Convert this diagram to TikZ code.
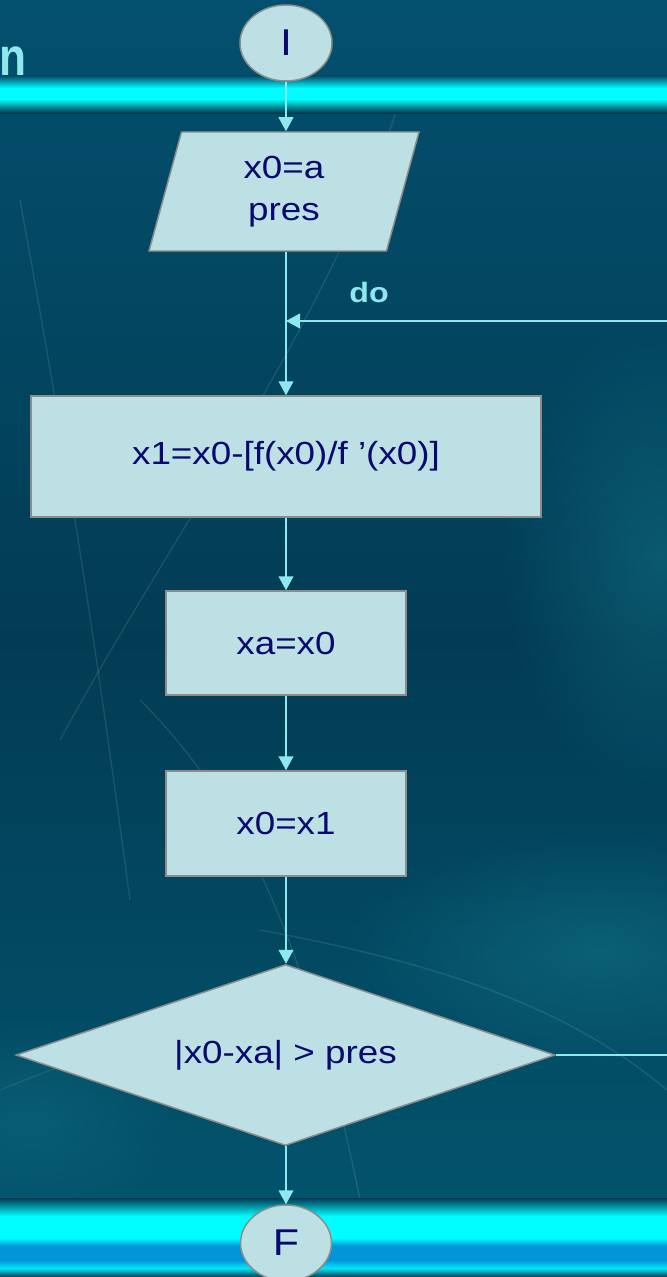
\documentclass[tikz,border=0pt]{standalone}
\usepackage{fontspec}
\setmainfont{Liberation Sans}[FakeStretch=1.15]
\usetikzlibrary{shapes.geometric,arrows.meta,fadings}
\definecolor{bgA}{HTML}{03506E}
\definecolor{bgB}{HTML}{023C54}
\definecolor{bgC}{HTML}{035670}
\definecolor{glow}{HTML}{00FCFF}
\definecolor{barblue}{HTML}{0096D8}
\definecolor{boxfill}{HTML}{BCE0E3}
\definecolor{boxline}{HTML}{8C8C8C}
\definecolor{txt}{HTML}{0A0A6E}
\definecolor{conn}{HTML}{8FE8EE}
\definecolor{haze}{HTML}{1A8A9A}
\tikzfading[name=softblob,inner color=transparent!40,outer color=transparent!100]
\begin{document}
\begin{tikzpicture}[x=0.75pt,y=-0.75pt,
  shapebox/.style={fill=boxfill,draw=boxline,line width=1.1pt,text=txt,
    font=\fontsize{24}{27}\selectfont,align=center,inner sep=0pt},
  termbox/.style={shapebox,ellipse,font=\fontsize{28}{30}\selectfont},
  procbox/.style={shapebox,rectangle},
  flow/.style={draw=conn,line width=1.5pt,-{Triangle[width=11pt,length=10.5pt]}},
  lbl/.style={text=conn,font=\bfseries\fontsize{21}{24}\selectfont,inner sep=0pt}]
\useasboundingbox (0,0) rectangle (667,1277);
\begin{scope}
\clip (0,0) rectangle (667,1277);
% background
\shade[top color=bgA,bottom color=bgB] (0,0) rectangle (667,640);
\shade[top color=bgB,bottom color=bgC] (0,640) rectangle (667,1277);
\fill[haze,opacity=0.6,path fading=softblob] (660,560) ellipse (160 and 240);
\fill[haze,opacity=0.6,path fading=softblob] (600,950) ellipse (260 and 120);
\fill[haze,opacity=0.4,path fading=softblob] (30,1120) ellipse (150 and 100);
\draw[white,opacity=0.10,line width=1pt] (400,100) .. controls (330,320) and (180,520) .. (60,740);
\draw[white,opacity=0.10,line width=1pt] (20,200) .. controls (60,420) and (90,600) .. (130,900);
\draw[white,opacity=0.10,line width=1pt] (260,930) .. controls (420,960) and (560,1000) .. (667,1090);
\draw[white,opacity=0.10,line width=1pt] (140,700) .. controls (220,780) and (300,900) .. (360,1200);
\draw[white,opacity=0.08,line width=1pt] (0,1090) .. controls (120,1040) and (220,1020) .. (300,1010);
% top glowing bar
\shade[top color=bgA,bottom color=glow] (0,76) rectangle (667,88);
\fill[glow] (0,88) rectangle (667,99);
\shade[top color=glow,bottom color=bgB!70!black] (0,99) rectangle (667,114);
% bottom glowing bar
\shade[top color=bgB,bottom color=glow] (0,1198) rectangle (667,1216);
\fill[glow] (0,1216) rectangle (667,1238);
\shade[top color=glow,bottom color=barblue] (0,1238) rectangle (667,1246);
\fill[barblue] (0,1246) rectangle (667,1260);
\shade[top color=barblue,bottom color=glow!80!barblue] (0,1260) rectangle (667,1268);
\shade[top color=glow!80!barblue,bottom color=bgB] (0,1268) rectangle (667,1277);
% partial title
\node[anchor=west,text=conn,font=\bfseries\fontsize{40}{40}\selectfont,inner sep=0pt] (title) at (-1,61) {\scalebox{0.72}[1]{n}};
\fill[conn] (0,0) -- (6,0) arc (0:-90:6) -- cycle;

% nodes
\node[termbox,minimum width=69pt,minimum height=57pt] (start) at (286,43) {I};
\node[shapebox,trapezium,trapezium left angle=65.6,trapezium right angle=114.4,
  trapezium stretches body=true,minimum width=202.5pt,minimum height=89.25pt,
  font=\fontsize{24}{32}\selectfont] (par) at (284,191.5) {x0=a\\pres};
\node[procbox,minimum width=382.5pt,minimum height=90.75pt] (r1) at (286,456.5) {x1=x0-[f(x0)/f ’(x0)]};
\node[procbox,minimum width=180pt,minimum height=78pt] (r2) at (286,643) {xa=x0};
\node[procbox,minimum width=180pt,minimum height=78.75pt] (r3) at (286,823.5) {x0=x1};
\node[shapebox,diamond,aspect=2.98,minimum width=404.25pt,minimum height=135.75pt] (dec) at (285.5,1055) {|x0-xa| > pres};
\node[termbox,minimum width=68.25pt,minimum height=57pt] (end) at (286,1243) {F};
\node[lbl] (do) at (369,292) {do};

\coordinate (join) at (286,321);
\coordinate (loopA) at (700,1055);
\coordinate (loopB) at (700,321);

% connectors
\draw[flow] (start.south) -- (start.south |- par.north);
\draw[flow] (start.south |- par.south) -- (start.south |- r1.north);
\draw[flow] (r1.south) -- (r2.north);
\draw[flow] (r2.south) -- (r3.north);
\draw[flow] (r3.south) -- (r3.south |- dec.north);
\draw[flow] (r3.south |- dec.south) -- (end.north);
\draw[flow] (dec.east) -- (loopA) -- (loopB) -- (join);
\end{scope}
\end{tikzpicture}
\end{document}
